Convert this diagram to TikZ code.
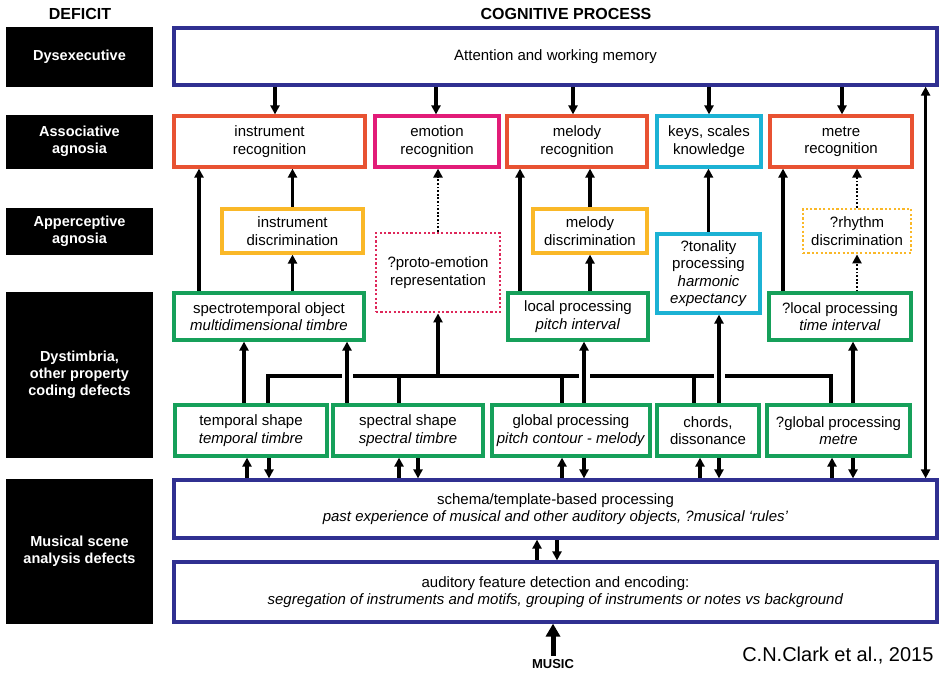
\documentclass[tikz,border=0pt]{standalone}
\usepackage{fontspec}
\setmainfont{Liberation Sans}
\usetikzlibrary{arrows.meta,backgrounds}

\definecolor{navy}{RGB}{48,48,145}
\definecolor{recred}{RGB}{232,82,50}
\definecolor{emopink}{RGB}{226,28,120}
\definecolor{disyellow}{RGB}{250,184,40}
\definecolor{keycyan}{RGB}{28,178,212}
\definecolor{codegreen}{RGB}{22,160,90}
\definecolor{protored}{RGB}{222,40,90}

\begin{document}
\begin{tikzpicture}[
    x=1pt, y=-1pt,
    font=\fontsize{15}{17.5}\selectfont,
    proc/.style={rectangle, draw=#1, line width=3.2pt, fill=white, align=center, inner sep=2pt},
    proc/.default=codegreen,
    wide/.style={proc=navy, minimum width=763pt},
    dotbox/.style={proc=#1, dash pattern=on 2.2pt off 2.2pt, line width=2.8pt},
    deficit/.style={rectangle, fill=black, text=white, minimum width=147pt, align=center, font=\fontsize{14.5}{17}\selectfont\bfseries},
    head/.style={font=\fontsize{16}{19}\selectfont\bfseries},
    arr/.style={-{Triangle[length=9pt,width=9pt]}, line width=3.2pt},
    dotarr/.style={arr, line width=2.8pt, dash pattern=on 1.8pt off 1.8pt},
    bigarr/.style={-{Triangle[length=13pt,width=14pt]}, line width=5pt},
    bus/.style={line width=3.2pt},
    cross/.style={preaction={draw=white, line width=11pt, -}},
]
\useasboundingbox (0,0) rectangle (944,672);

% Headers
\node[head] (deftitle) at (80,14) {DEFICIT};
\node[head] (cogtitle) at (566,14) {COGNITIVE PROCESS};

% Deficit column
\node[deficit, minimum height=60pt] (dys) at (79.5,56.5) {Dysexecutive};
\node[deficit, minimum height=54pt] (assoc) at (79.5,141.5) {Associative\\agnosia};
\node[deficit, minimum height=47pt] (apper) at (79.5,231) {Apperceptive\\agnosia};
\node[deficit, minimum height=166pt] (dystim) at (79.5,374.5) {Dystimbria,\\other property\\coding defects};
\node[deficit, minimum height=145pt] (scene) at (79.5,551) {Musical scene\\analysis defects};

% Executive
\node[wide, minimum height=57pt] (attn) at (555.5,56.5) {Attention and working memory};

% Recognition
\node[proc=recred, minimum width=191pt, minimum height=51pt] (instrec) at (269.5,141.5) {instrument\\recognition};
\node[proc=emopink, minimum width=124pt, minimum height=51pt] (emorec) at (437,141.5) {emotion\\recognition};
\node[proc=recred, minimum width=140pt, minimum height=51pt] (melrec) at (577,141.5) {melody\\recognition};
\node[proc=keycyan, minimum width=104pt, minimum height=51pt] (keys) at (709,141.5) {keys, scales\\knowledge};
\node[proc=recred, minimum width=142pt, minimum height=51pt] (metrec) at (841,141.5) {metre\\recognition};

% Discrimination
\node[proc=disyellow, minimum width=141pt, minimum height=44pt] (instdis) at (292.5,231) {instrument\\discrimination};
\node[proc=disyellow, minimum width=114pt, minimum height=44pt] (meldis) at (590,231) {melody\\discrimination};
\node[dotbox=disyellow, minimum width=108pt, minimum height=44pt] (rhydis) at (857,231) {?rhythm\\discrimination};

% Proto-emotion, tonality
\node[dotbox=protored, minimum width=124pt, minimum height=79pt] (proto) at (438,272.5) {?proto-emotion\\representation};
\node[proc=keycyan, minimum width=103pt, minimum height=79pt] (tonal) at (708.5,273.5) {?tonality\\processing\\\textit{harmonic}\\\textit{expectancy}};

% Property coding, upper
\node[proc, minimum width=190pt, minimum height=47pt] (spectro) at (269,316.5) {spectrotemporal object\\\textit{multidimensional timbre}};
\node[proc, minimum width=140pt, minimum height=47pt] (localp) at (578,316.5) {local processing\\\textit{pitch interval}};
\node[proc, minimum width=142pt, minimum height=47pt] (localt) at (840,316.5) {?local processing\\\textit{time interval}};

% Property coding, lower
\node[proc, minimum width=152pt, minimum height=51pt] (temporal) at (251,430.5) {temporal shape\\\textit{temporal timbre}};
\node[proc, minimum width=150pt, minimum height=51pt] (spectral) at (408,430.5) {spectral shape\\\textit{spectral timbre}};
\node[proc, minimum width=158pt, minimum height=51pt] (globalp) at (571,430.5) {global processing\\\textit{pitch contour - melody}};
\node[proc, minimum width=102pt, minimum height=51pt] (chords) at (708,430.5) {chords,\\dissonance};
\node[proc, minimum width=143pt, minimum height=51pt] (globalm) at (838.5,430.5) {?global processing\\\textit{metre}};

% Scene analysis
\node[wide, minimum height=58pt] (schema) at (555.5,509) {schema/template-based processing\\\textit{past experience of musical and other auditory objects, ?musical `rules'}};
\node[wide, minimum height=60pt] (audit) at (555.5,592) {auditory feature detection and encoding:\\\textit{segregation of instruments and motifs, grouping of instruments or notes vs background}};

\node[font=\fontsize{13}{15}\selectfont\bfseries] (music) at (553,664) {MUSIC};
\node[font=\fontsize{20}{24}\selectfont, anchor=east] (credit) at (937,656) {C.N.Clark et al., 2015};

\coordinate (bus) at (438,376);

\begin{scope}[on background layer]
% Attention down
\draw[arr] ([xshift=5.5pt]instrec.north |- attn.south) -- ([xshift=5.5pt]instrec.north);
\draw[arr] ([xshift=-1pt]emorec.north |- attn.south) -- ([xshift=-1pt]emorec.north);
\draw[arr] ([xshift=-4pt]melrec.north |- attn.south) -- ([xshift=-4pt]melrec.north);
\draw[arr] (keys.north |- attn.south) -- (keys.north);
\draw[arr] ([xshift=1pt]metrec.north |- attn.south) -- ([xshift=1pt]metrec.north);
\draw[arr, {Triangle[length=9pt,width=9pt]}-{Triangle[length=9pt,width=9pt]}] ([xshift=-13pt]schema.north east) -- ([xshift=-13pt]attn.south east);

% Up to recognition
\draw[arr] ([xshift=-70pt]spectro.north) -- ([xshift=-70pt]spectro.north |- instrec.south);
\draw[arr] (instdis.north) -- (instdis.north |- instrec.south);
\draw[arr] (instdis.south |- spectro.north) -- (instdis.south);
\draw[dotarr] (proto.north) -- (proto.north |- emorec.south);
\draw[arr] ([xshift=-58pt]localp.north) -- ([xshift=-58pt]localp.north |- melrec.south);
\draw[arr] (meldis.north) -- (meldis.north |- melrec.south);
\draw[arr] (meldis.south |- localp.north) -- (meldis.south);
\draw[arr] (tonal.north) -- (tonal.north |- keys.south);
\draw[arr] ([xshift=-57pt]localt.north) -- ([xshift=-57pt]localt.north |- metrec.south);
\draw[dotarr] (rhydis.north) -- (rhydis.north |- metrec.south);
\draw[dotarr] (rhydis.south |- localt.north) -- (rhydis.south);

% Bus to proto-emotion
\draw[bus] ([xshift=17pt]temporal.north) |- (bus) -| ([xshift=-7.5pt]globalm.north);
\draw[bus] ([xshift=-9pt]spectral.north) -- ([xshift=-9pt]spectral.north |- bus);
\draw[bus] ([xshift=-9pt]globalp.north) -- ([xshift=-9pt]globalp.north |- bus);
\draw[bus] ([xshift=-14pt]chords.north) -- ([xshift=-14pt]chords.north |- bus);
\draw[arr] (bus) -- (proto.south);

% Lower to upper coding
\draw[arr] ([xshift=-7pt]temporal.north) -- ([xshift=-7pt]temporal.north |- spectro.south);
\draw[arr, cross] ([xshift=-61pt]spectral.north) -- ([xshift=-61pt]spectral.north |- spectro.south);
\draw[arr, cross] ([xshift=13pt]globalp.north) -- ([xshift=13pt]globalp.north |- localp.south);
\draw[arr, cross] ([xshift=11pt]chords.north) -- ([xshift=11pt]chords.north |- tonal.south);
\draw[arr] ([xshift=14.5pt]globalm.north) -- ([xshift=14.5pt]globalm.north |- localt.south);

% Schema to and from coding
\foreach \nd/\up/\down in {temporal/-4/18, spectral/-9/10, globalp/-9/13, chords/-8/11, globalm/-6.5/14.5} {
  \draw[arr] ([xshift=\up pt]\nd.south |- schema.north) -- ([xshift=\up pt]\nd.south);
  \draw[arr] ([xshift=\down pt]\nd.south) -- ([xshift=\down pt]\nd.south |- schema.north);
}

% Scene analysis
\draw[arr] ([xshift=-18.5pt]audit.north) -- ([xshift=-18.5pt]schema.south);
\draw[arr] ([xshift=1.5pt]schema.south) -- ([xshift=1.5pt]audit.north);
\draw[bigarr] (music.north) -- (music.north |- audit.south);
\end{scope}

\end{tikzpicture}
\end{document}
